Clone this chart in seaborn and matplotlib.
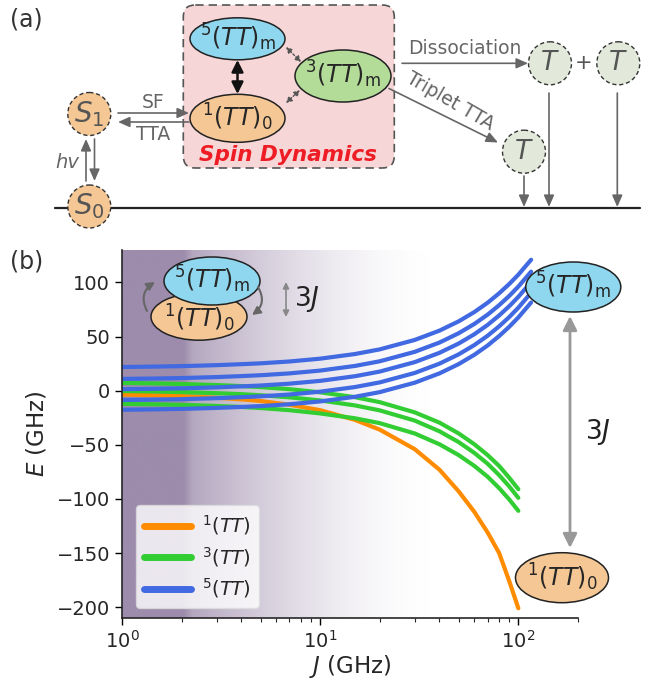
import numpy as np
import pandas as pd
import matplotlib
matplotlib.use("Agg")
import matplotlib.pyplot as plt
import seaborn as sns
from matplotlib.patches import Ellipse, Circle, FancyBboxPatch, FancyArrowPatch
from matplotlib.lines import Line2D

# ---------------- data ----------------
J_main = [1, 1.5, 2, 3, 4, 5, 7, 10, 15, 20, 30, 40, 50, 60, 70, 80, 90, 100]
J_quintet = [1, 1.5, 2, 3, 4, 5, 7, 10, 15, 20, 30, 40, 50, 60, 70, 80, 90, 100, 116]

E_singlet = [-3.5, -4.2, -5.0, -6.5, -8.0, -9.5, -13.0, -18.0, -27.0, -36.0, -54.0,
             -73.0, -93.0, -112.0, -131.0, -150.0, -176.0, -201.0]

E_triplet_a = [7.2, 6.7, 6.2, 5.2, 4.3, 3.3, 1.4, -1.5, -6.0, -10.6, -20.0, -29.5,
               -39.5, -49.5, -59.5, -69.5, -80.5, -91.0]
E_triplet_b = [-0.3, -0.8, -1.3, -2.3, -3.2, -4.2, -6.1, -9.0, -13.6, -18.2, -27.6,
               -37.5, -47.5, -57.5, -67.5, -78.0, -88.5, -99.0]
E_triplet_c = [-12.1, -12.6, -13.1, -14.1, -15.0, -16.0, -18.0, -21.0, -25.5, -30.0,
               -39.5, -49.5, -59.5, -69.5, -79.5, -90.0, -100.5, -111.0]

E_quintet_a = [21.9, 22.3, 22.7, 23.6, 24.5, 25.3, 27.0, 29.6, 33.9, 38.2, 46.9, 55.5,
               64.1, 72.7, 81.3, 90.0, 98.6, 107.2, 121.0]
E_quintet_b = [10.9, 11.3, 11.7, 12.6, 13.5, 14.3, 16.0, 18.6, 22.9, 27.2, 35.9, 44.5,
               53.1, 61.7, 70.3, 79.0, 87.6, 96.2, 110.0]
E_quintet_c = [1.4, 1.8, 2.2, 3.1, 4.0, 4.8, 6.5, 9.1, 13.4, 17.7, 26.4, 35.0, 43.6,
               52.2, 60.8, 69.5, 78.1, 86.7, 100.5]
E_quintet_d = [-8.6, -8.2, -7.8, -6.9, -6.0, -5.2, -3.5, -0.9, 3.4, 7.7, 16.4, 25.0,
               33.6, 42.2, 50.8, 59.5, 68.1, 76.7, 90.5]
E_quintet_e = [-17.6, -17.2, -16.8, -15.9, -15.0, -14.2, -12.5, -9.9, -5.6, -1.3, 7.4,
               16.0, 24.6, 33.2, 41.8, 50.5, 59.1, 67.7, 81.5]

state_labels = [r"$^1(TT)$", r"$^3(TT)$", r"$^5(TT)$"]
state_colors = ["#ff8c00", "#32cd32", "#4169e1"]

# ---------------- long table ----------------
rows = []
def add(curve, state, Js, Es):
    for j, e in zip(Js, Es):
        rows.append(dict(curve=curve, state=state, J=j, E=e))

add("s", state_labels[0], J_main, E_singlet)
for k, arr in enumerate([E_triplet_a, E_triplet_b, E_triplet_c]):
    add(f"t{k}", state_labels[1], J_main, arr)
for k, arr in enumerate([E_quintet_a, E_quintet_b, E_quintet_c, E_quintet_d, E_quintet_e]):
    add(f"q{k}", state_labels[2], J_quintet, arr)
df = pd.DataFrame(rows)

sns.set_style("ticks")
plt.rcParams["font.family"] = ["DejaVu Sans"]
plt.rcParams["mathtext.fontset"] = "dejavusans"

W, H = 662, 686
fig = plt.figure(figsize=(W / 100, H / 100), dpi=100)

rect = [122 / W, 1 - 618 / H, 456 / W, 368 / H]

# background gradient (behind the plot)
bg = fig.add_axes(rect, zorder=0)
f = np.linspace(0, 1, 900)
fade = 0.76 * np.clip(1 - (f - 0.155) / 0.52, 0, 1) ** 1.6
ramp = np.clip((f - 0.135) / 0.02, 0, 1)
alpha = (1 - ramp) * 1.0 + ramp * fade
purple = np.array([157, 140, 172]) / 255.0
img = (1 - alpha[None, :, None]) * np.ones(3)[None, None, :] + alpha[None, :, None] * purple[None, None, :]
bg.imshow(img, aspect="auto", extent=[0, 1, 0, 1], interpolation="bilinear")
bg.axis("off")

ax = fig.add_axes(rect, zorder=1)
ax.patch.set_alpha(0)
sns.lineplot(data=df, x="J", y="E", hue="state", units="curve", estimator=None,
             hue_order=state_labels, palette=state_colors, lw=3, sort=False,
             legend=False, ax=ax)
ax.set_xscale("log")
ax.set_xlim(1, 200)
ax.set_ylim(-210, 130)
ax.set_yticks([100, 50, 0, -50, -100, -150, -200])
sns.despine(ax=ax)
ax.tick_params(axis="both", which="major", labelsize=14, length=5, width=1, color="black")
ax.tick_params(axis="x", which="minor", length=3, width=0.8)
ax.set_xlabel(r"$J$ (GHz)", fontsize=16.5, labelpad=1)
ax.set_ylabel(r"$E$ (GHz)", fontsize=16.5, labelpad=6)
for s in ax.spines.values():
    s.set_linewidth(1.2)

handles = [Line2D([0], [0], color=c, lw=5) for c in state_colors]
leg = ax.legend(handles, state_labels, loc="lower left", fontsize=14, handlelength=2.4,
                frameon=True, framealpha=0.8, borderpad=0.4, labelspacing=0.4,
                handletextpad=0.6, bbox_to_anchor=(0.01, 0.0))
leg.get_frame().set_edgecolor("#dddddd")

# ---------------- overlay in pixel coordinates ----------------
ov = fig.add_axes([0, 0, 1, 1], zorder=5)
ov.set_xlim(0, W)
ov.set_ylim(H, 0)
ov.axis("off")

GRAY = "#666666"
BLUE_F = "#8fd7ee"
ORANGE_F = "#f5c795"
GREEN_F = "#b3dc98"
TGRAY_F = "#e2e9da"

def arrow(p0, p1, style="-|>,head_length=0.5,head_width=0.22", color=GRAY, lw=1.2,
          ms=14, ls="-", conn="arc3,rad=0"):
    ov.add_patch(FancyArrowPatch(p0, p1, arrowstyle=style, mutation_scale=ms, color=color,
                                 lw=lw, linestyle=ls, shrinkA=0, shrinkB=0,
                                 connectionstyle=conn, zorder=4))

def ellipse(c, w, h, fc, z=3):
    ov.add_patch(Ellipse(c, w, h, facecolor=fc, edgecolor="#222222", lw=1.1, zorder=z))

def circ(c, r, fc):
    ov.add_patch(Circle(c, r, facecolor=fc, edgecolor="#333333", lw=1.0, ls=(0, (3, 2)), zorder=3))

# ---- panel (a) ----
ov.text(10, 20, "(a)", fontsize=17, color="#333333", va="center", ha="left")
ov.plot([55, 640], [207.5, 207.5], color="#222222", lw=1.6, zorder=2)

ov.add_patch(FancyBboxPatch((183.3, 5), 211, 163, boxstyle="round,pad=0,rounding_size=12",
                            facecolor="#f6d6d6", edgecolor="#555555", lw=1.2,
                            ls=(0, (5, 3)), zorder=1))

circ((89.3, 114), 21.5, ORANGE_F)
circ((89.3, 206.5), 21.5, ORANGE_F)
ov.text(89.3, 114, r"$S_\mathit{1}$", fontsize=20, color="#555555", ha="center", va="center", zorder=5)
ov.text(89.3, 206.5, r"$S_\mathit{0}$", fontsize=20, color="#555555", ha="center", va="center", zorder=5)
arrow((86, 181), (86, 139))
arrow((94.5, 139), (94.5, 181))
ov.text(67, 163, "hv", fontsize=14, color=GRAY, style="italic", ha="center", va="center")

arrow((118, 113), (189, 113))
arrow((189, 122), (118, 122))
ov.text(153, 102, "SF", fontsize=13.5, color=GRAY, ha="center", va="center")
ov.text(153, 135, "TTA", fontsize=13.5, color=GRAY, ha="center", va="center")

ellipse((237.5, 38.8), 95, 42, BLUE_F)
ellipse((237.5, 118.3), 95, 48, ORANGE_F)
ellipse((343, 76), 96, 52, GREEN_F)
ov.text(237.5, 37, r"$^5(TT)_\mathrm{m}$", fontsize=17, ha="center", va="center", zorder=5)
ov.text(237.5, 117, r"$^1(TT)_0$", fontsize=17, ha="center", va="center", zorder=5)
ov.text(343, 74, r"$^3(TT)_\mathrm{m}$", fontsize=17, ha="center", va="center", zorder=5)
arrow((237.5, 60), (237.5, 94), style="<|-|>,head_length=0.5,head_width=0.25",
      color="#111111", lw=1.8)
arrow((286, 47), (301, 62), style="<|-|>,head_length=0.35,head_width=0.18",
      color="#555555", lw=1.0, ls=(0, (1.5, 1.5)), ms=10)
arrow((286, 103), (300, 90), style="<|-|>,head_length=0.35,head_width=0.18",
      color="#555555", lw=1.0, ls=(0, (1.5, 1.5)), ms=10)
ov.text(288, 155, "Spin Dynamics", fontsize=15.5, fontweight="bold", style="italic",
        color="#ee1c24", ha="center", va="center", zorder=5)

arrow((402, 63.3), (528, 63.3))
ov.text(465, 49, "Dissociation", fontsize=13.5, color=GRAY, ha="center", va="center")
arrow((389, 88.5), (498, 142.5))
ov.text(450, 101, "Triplet TTA", fontsize=13.5, color=GRAY, ha="center", va="center",
        rotation=-30, rotation_mode="anchor")

circ((550, 63.3), 21.5, TGRAY_F)
circ((618.3, 63.3), 21.5, TGRAY_F)
circ((524, 151.7), 21.5, TGRAY_F)
for (cx, cy) in [(550, 63.3), (618.3, 63.3), (524, 151.7)]:
    ov.text(cx, cy, r"$T$", fontsize=19, color="#555555", ha="center", va="center", zorder=5)
ov.text(584, 63.3, "+", fontsize=15, color="#555555", ha="center", va="center")
arrow((524, 176), (524, 207))
arrow((549, 93), (549, 207))
arrow((617.3, 93), (617.3, 207))

# ---- panel (b) ----
ov.text(10, 262, "(b)", fontsize=17, color="#333333", va="center", ha="left")

# inset top-left
ellipse((199, 316.7), 96, 47, ORANGE_F, z=3)
ellipse((212, 281), 96, 48, BLUE_F, z=3.5)
ov.text(212, 279, r"$^5(TT)_\mathrm{m}$", fontsize=17, ha="center", va="center", zorder=5)
ov.text(199, 318, r"$^1(TT)_0$", fontsize=17, ha="center", va="center", zorder=3.2)
arrow((147, 311), (155, 282), style="-|>,head_length=0.4,head_width=0.2", color=GRAY,
      lw=1.5, ms=12, conn="arc3,rad=-0.45")
arrow((258, 287), (252, 315), style="-|>,head_length=0.4,head_width=0.2", color=GRAY,
      lw=1.5, ms=12, conn="arc3,rad=-0.45")
arrow((286, 282), (286, 317), style="<|-|>,head_length=0.3,head_width=0.15",
      color="#888888", lw=1.2, ms=12)
ov.text(294, 299, r"3$J$", fontsize=19, color="#222222", ha="left", va="center")

# right side
arrow((570, 316), (570, 548), style="<|-|>,head_length=0.6,head_width=0.3",
      color="#999999", lw=2.0, ms=14)
ellipse((573.3, 287), 95, 50, BLUE_F)
ellipse((562, 577.7), 93, 50, ORANGE_F)
ov.text(573.3, 285, r"$^5(TT)_\mathrm{m}$", fontsize=17, ha="center", va="center", zorder=5)
ov.text(562, 577, r"$^1(TT)_0$", fontsize=17, ha="center", va="center", zorder=5)
ov.text(585, 432, r"3$J$", fontsize=19, color="#222222", ha="left", va="center")

fig.savefig("out.png", dpi=100)
